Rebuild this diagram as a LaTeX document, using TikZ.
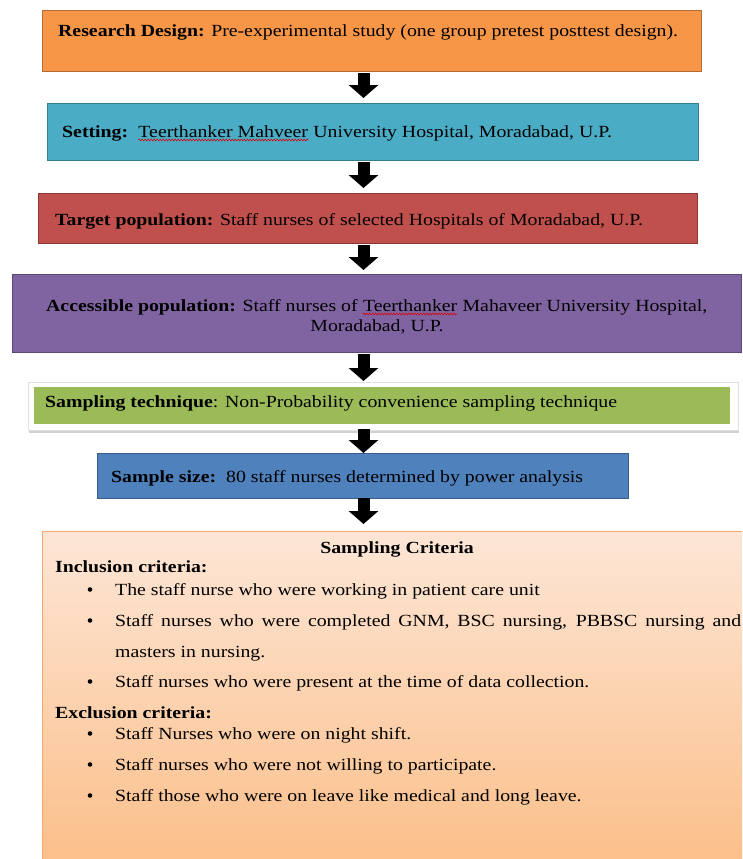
\documentclass[tikz,border=0pt]{standalone}
\usepackage{fontspec}
\setmainfont{Liberation Serif}
\usetikzlibrary{arrows.meta,shadows,calc,decorations.pathmorphing}
\definecolor{cOrange}{HTML}{F79646}
\definecolor{cOrangeB}{HTML}{B66D31}
\definecolor{cTeal}{HTML}{4BACC6}
\definecolor{cTealB}{HTML}{357D91}
\definecolor{cRed}{HTML}{C0504D}
\definecolor{cRedB}{HTML}{8C3836}
\definecolor{cPurple}{HTML}{8064A2}
\definecolor{cPurpleB}{HTML}{5C4776}
\definecolor{cGreen}{HTML}{9BBB59}
\definecolor{cBlue}{HTML}{4F81BD}
\definecolor{cBlueB}{HTML}{385D8A}
\definecolor{cPeachTop}{HTML}{FDE6D6}
\definecolor{cPeachBot}{HTML}{FBBE88}
\definecolor{cPeachB}{HTML}{F4A86C}
\newcommand{\sqz}[1]{\scalebox{1}[0.86]{#1}}
\tikzset{
  box/.style={draw, line width=1.2pt, inner sep=0pt, anchor=north west},
  txt/.style={anchor=base west, inner sep=0pt, font=\fontsize{19.8}{22}\selectfont},
  bul/.style={anchor=center, inner sep=0pt, fill=black, circle, minimum size=4.6pt},
  blockarr/.style={line width=12pt, -{Triangle[width=29pt,length=13pt]}, black},
  spell/.style={red!85!black, line width=0.6pt, decorate, decoration={snake, amplitude=0.9pt, segment length=3pt}}
}
\begin{document}
\begin{tikzpicture}[x=1pt,y=-1pt]
\useasboundingbox (0,0) rectangle (742,859);
\clip (0,0) rectangle (742,859);
\fill[white] (0,0) rectangle (742,859);
\coordinate (ax) at (363.5,0);
% boxes
\node[box, fill=cOrange, draw=cOrangeB, minimum width=659pt, minimum height=61pt] (rd) at (42,10) {};
\node[box, fill=cTeal, draw=cTealB, minimum width=651pt, minimum height=57pt] (set) at (47,103) {};
\node[box, fill=cRed, draw=cRedB, minimum width=659pt, minimum height=50pt] (tp) at (38,193) {};
\node[box, fill=cPurple, draw=cPurpleB, minimum width=729pt, minimum height=78pt] (ap) at (12,274) {};
\node[box, fill=white, draw=black!12, line width=0.6pt, drop shadow={opacity=0.35, shadow xshift=1pt, shadow yshift=-2.5pt}, minimum width=710pt, minimum height=48pt] (st) at (28,382) {};
\node[box, fill=cGreen, draw=none, minimum width=696pt, minimum height=37pt] (stin) at (33,386) {};
\node[box, fill=cBlue, draw=cBlueB, minimum width=531pt, minimum height=45pt] (ss) at (97,453) {};
\node[box, top color=cPeachTop, bottom color=cPeachBot, draw=cPeachB, line width=1pt, minimum width=720pt, minimum height=340pt] (sc) at (42,531) {};
% arrows
\draw[blockarr] ($(rd.south -| ax)+(0,1)$) -- ($(set.north -| ax)+(0,-5)$);
\draw[blockarr] ($(set.south -| ax)+(0,1)$) -- ($(tp.north -| ax)+(0,-5)$);
\draw[blockarr] ($(tp.south -| ax)+(0,1)$) -- ($(ap.north -| ax)+(0,-4)$);
\draw[blockarr] ($(ap.south -| ax)+(0,1)$) -- ($(st.north -| ax)+(0,-1)$);
\draw[blockarr] ($(st.south -| ax)+(0,-2)$) -- ($(ss.north -| ax)+(0,0)$);
\draw[blockarr] ($(ss.south -| ax)+(0,-1)$) -- ($(sc.north -| ax)+(0,-7)$);
% texts
\node[txt] (t1) at (58,37) {\sqz{\textbf{Research Design:} Pre-experimental study (one group pretest posttest design).}};
\node[txt] (t2a) at (62,137) {\sqz{\textbf{Setting:}\ \ }};
\node[txt] (t2b) at (t2a.base east) {\sqz{Teerthanker Mahveer}};
\node[txt] (t2c) at (t2b.base east) {\sqz{\ University Hospital, Moradabad, U.P.}};
\draw[spell] ($(t2b.base west)+(0,3)$) -- ($(t2b.base east)+(0,3)$);
\node[txt] (t3) at (55,225) {\sqz{\textbf{Target population:} Staff nurses of selected Hospitals of Moradabad, U.P.}};
\node[txt] (t4a) at (46,311) {\sqz{\textbf{Accessible population:} Staff nurses of\ }};
\node[txt] (t4b) at (t4a.base east) {\sqz{Teerthanker}};
\node[txt] (t4c) at (t4b.base east) {\sqz{\ Mahaveer University Hospital,}};
\draw[spell] ($(t4b.base west)+(0,3)$) -- ($(t4b.base east)+(0,3)$);
\node[txt, anchor=base] (t4d) at (377,331) {\sqz{Moradabad, U.P.}};
\node[txt] (t5) at (45,407) {\sqz{\textbf{Sampling technique}: Non-Probability convenience sampling technique}};
\node[txt] (t6) at (111,482) {\sqz{\textbf{Sample size:}\ \ 80 staff nurses determined by power analysis}};
\node[txt, anchor=base] (c0) at (397,553) {\sqz{\textbf{Sampling Criteria}}};
\node[txt] (c1) at (55,572) {\sqz{\textbf{Inclusion criteria:}}};
\foreach \y/\t [count=\i] in {595/{The staff nurse who were working in patient care unit},
  626/{\makebox[626pt][s]{Staff nurses who were completed GNM, BSC nursing, PBBSC nursing and}},
  657/{masters in nursing.},
  687/{Staff nurses who were present at the time of data collection.}}{
  \node[txt] (inc\i) at (115,\y) {\sqz{\t}};
}
\node[bul] (b1) at (90,589.5) {};
\node[bul] (b2) at (90,620.5) {};
\node[bul] (b3) at (90,681.5) {};
\node[txt] (c2) at (55,718) {\sqz{\textbf{Exclusion criteria:}}};
\foreach \y/\t [count=\i] in {739/{Staff Nurses who were on night shift.},
  770/{Staff nurses who were not willing to participate.},
  801/{Staff those who were on leave like medical and long leave.}}{
  \node[txt] (exc\i) at (115,\y) {\sqz{\t}};
  \node[bul] (eb\i) at (90,\y-5.5) {};
}
\end{tikzpicture}
\end{document}
